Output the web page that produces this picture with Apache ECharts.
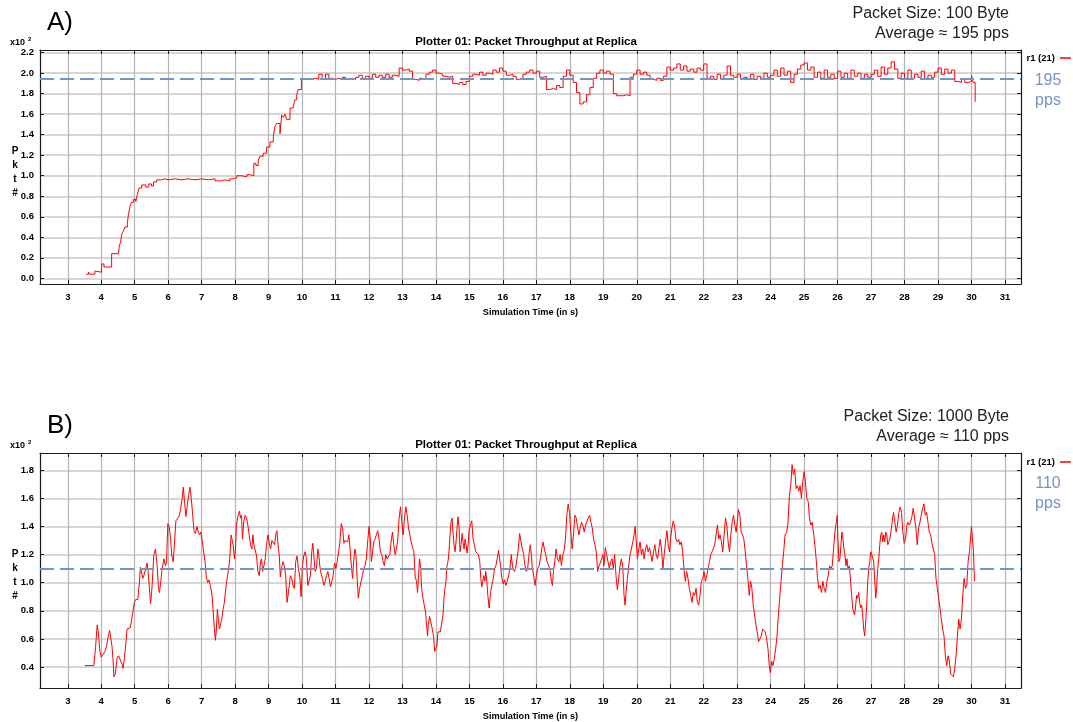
<!DOCTYPE html>
<html>
<head>
<meta charset="utf-8">
<title>Plotter 01: Packet Throughput at Replica</title>
<script src="https://cdn.jsdelivr.net/npm/echarts@6.0.0/dist/echarts.min.js"></script>
<style>
  html, body { margin: 0; padding: 0; background: #fff; }
  #chart { width: 1073px; height: 722px; }
</style>
</head>
<body>
<div id="chart"></div>
<script>
// tick labels
const xTicks = [3, 4, 5, 6, 7, 8, 9, 10, 11, 12, 13, 14, 15, 16, 17, 18, 19, 20, 21, 22, 23, 24, 25, 26, 27, 28, 29, 30, 31]
const aYTicks = [0, 20, 40, 60, 80, 100, 120, 140, 160, 180, 200, 220]
const bYTicks = [40, 60, 80, 100, 120, 140, 160, 180]

// averages (pps)
const aAverage = 195
const bAverage = 110

// A) 100 Byte packets: ramp-up phase (time in s, packets)
const aRampTimes = [3.55, 3.62, 3.65, 3.81, 3.86, 4.01, 4.08, 4.31, 4.51, 4.54, 4.58, 4.61, 4.66, 4.71, 4.78, 4.81, 4.86, 4.9, 4.96, 5.03,
  5.08, 5.13, 5.21, 5.33, 5.42, 5.5, 5.56, 5.66, 5.8, 5.9, 6.0, 6.2, 6.4, 6.6, 6.8, 7.0, 7.2, 7.4, 7.6, 7.7,
  7.84, 7.94, 8.05, 8.2, 8.35, 8.45, 8.5, 8.56, 8.62, 8.69, 8.74, 8.84, 8.94, 9.04, 9.14, 9.19, 9.24, 9.34, 9.39, 9.44,
  9.49, 9.54, 9.64, 9.73, 9.78, 9.84, 9.88, 9.98]
const aRampValues = [4, 6, 4, 7, 6, 14, 11, 24, 25, 31, 36, 43, 46, 50, 53, 62, 70, 74, 77, 75,
  82, 88, 91, 89, 92, 90, 94, 96, 97, 96, 97, 96, 97, 96, 97, 96, 97, 95, 96, 95,
  97, 98, 100, 99, 101, 102, 100, 112, 110, 115, 119, 122, 128, 133, 138, 148, 151, 141, 159, 157,
  160, 155, 166, 167, 174, 179, 184, 194]

// A) steady phase, sampled every 0.1 s from 10.1 s
const aSteadyStart = 10.1
const aSteadyStep = 0.1
const aSteadyValues = [
  194, 194, 195, 194, 199, 194, 199, 195, 194, 195,
  194, 196, 194, 195, 194, 196, 198, 195, 197, 195,
  199, 196, 198, 196, 199, 196, 198, 197, 205, 203,
  204, 202, 194, 193, 195, 194, 199, 201, 203, 200,
  199, 197, 196, 197, 190, 189, 191, 189, 192, 197,
  199, 198, 201, 198, 200, 199, 203, 201, 205, 202,
  198, 199, 197, 194, 195, 199, 201, 203, 200, 202,
  196, 197, 184, 185, 184, 188, 186, 197, 203, 198,
  191, 181, 170, 172, 179, 186, 195, 200, 203, 200,
  202, 199, 180, 178, 178, 179, 178, 196, 199, 203,
  199, 201, 198, 194, 193, 195, 193, 197, 206, 203,
  205, 209, 203, 207, 202, 204, 201, 205, 203, 209,
  195, 197, 194, 199, 195, 198, 207, 198, 196, 199,
  194, 196, 194, 199, 194, 197, 195, 200, 196, 198,
  203, 197, 205, 198, 202, 191, 199, 204, 208, 210,
  203, 206, 196, 201, 195, 203, 196, 199, 195, 202,
  196, 200, 195, 203, 197, 200, 195, 199, 196, 199,
  203, 197, 206, 199, 205, 211, 204, 195, 200, 195,
  203, 195, 199, 196, 202, 195, 198, 196, 201, 205,
  199, 204, 200, 203, 192, 191, 194, 191, 192, 198
]
const aTailTimes = [30.05, 30.11]
const aTailValues = [191, 172]

// B) 1000 Byte packets (time in s, packets)
const bTimes = [
  3.51, 3.78, 3.83, 3.88, 3.91, 3.96, 4.00, 4.06, 4.11, 4.16, 4.21, 4.25, 4.29, 4.32, 4.35, 4.38, 4.42, 4.47, 4.52, 4.57,
  4.62, 4.65, 4.69, 4.74, 4.77, 4.82, 4.87, 4.91, 4.95, 4.99, 5.03, 5.09, 5.14, 5.17, 5.20, 5.24, 5.27, 5.32, 5.37, 5.40,
  5.44, 5.47, 5.50, 5.53, 5.57, 5.62, 5.67, 5.71, 5.74, 5.77, 5.82, 5.87, 5.92, 5.95, 5.99, 6.03, 6.07, 6.11, 6.15, 6.19,
  6.23, 6.27, 6.32, 6.37, 6.42, 6.45, 6.49, 6.53, 6.57, 6.61, 6.65, 6.69, 6.73, 6.77, 6.81, 6.86, 6.90, 6.94, 6.98, 7.02,
  7.06, 7.10, 7.14, 7.18, 7.22, 7.26, 7.31, 7.34, 7.38, 7.41, 7.44, 7.47, 7.50, 7.53, 7.56, 7.60, 7.64, 7.68, 7.72, 7.76,
  7.80, 7.84, 7.88, 7.91, 7.94, 7.98, 8.01, 8.04, 8.08, 8.13, 8.16, 8.19, 8.22, 8.26, 8.30, 8.34, 8.38, 8.42, 8.46, 8.50,
  8.53, 8.56, 8.60, 8.64, 8.68, 8.72, 8.76, 8.79, 8.82, 8.86, 8.90, 8.94, 8.98, 9.02, 9.06, 9.10, 9.14, 9.18, 9.22, 9.25,
  9.28, 9.32, 9.35, 9.39, 9.43, 9.47, 9.51, 9.55, 9.58, 9.62, 9.65, 9.69, 9.73, 9.77, 9.81, 9.85, 9.89, 9.93, 9.97, 10.01,
  10.05, 10.09, 10.13, 10.17, 10.21, 10.25, 10.29, 10.32, 10.35, 10.39, 10.43, 10.47, 10.50, 10.53, 10.57, 10.61, 10.65, 10.69, 10.73, 10.77,
  10.81, 10.85, 10.89, 10.93, 10.97, 11.01, 11.05, 11.09, 11.13, 11.17, 11.21, 11.25, 11.28, 11.32, 11.36, 11.40, 11.44, 11.48, 11.51, 11.54,
  11.58, 11.61, 11.64, 11.68, 11.72, 11.76, 11.80, 11.84, 11.88, 11.92, 11.96, 12.00, 12.04, 12.07, 12.10, 12.14, 12.18, 12.22, 12.26, 12.30,
  12.34, 12.38, 12.42, 12.46, 12.50, 12.54, 12.58, 12.62, 12.66, 12.70, 12.74, 12.78, 12.82, 12.86, 12.90, 12.94, 12.98, 13.02, 13.06, 13.10,
  13.14, 13.18, 13.22, 13.26, 13.30, 13.34, 13.38, 13.42, 13.45, 13.48, 13.51, 13.54, 13.57, 13.61, 13.65, 13.69, 13.72, 13.75, 13.77, 13.81,
  13.85, 13.89, 13.93, 13.96, 14.00, 14.03, 14.06, 14.09, 14.13, 14.17, 14.21, 14.24, 14.27, 14.30, 14.33, 14.36, 14.39, 14.42, 14.45, 14.48,
  14.51, 14.54, 14.57, 14.60, 14.63, 14.66, 14.69, 14.72, 14.75, 14.78, 14.81, 14.84, 14.87, 14.90, 14.93, 14.96, 14.99, 15.03, 15.07, 15.11,
  15.15, 15.19, 15.23, 15.27, 15.31, 15.34, 15.37, 15.40, 15.43, 15.46, 15.49, 15.52, 15.55, 15.59, 15.63, 15.67, 15.71, 15.75, 15.79, 15.83,
  15.87, 15.90, 15.93, 15.97, 16.01, 16.05, 16.09, 16.13, 16.17, 16.21, 16.25, 16.27, 16.30, 16.34, 16.38, 16.42, 16.46, 16.50, 16.54, 16.58,
  16.62, 16.66, 16.70, 16.74, 16.78, 16.82, 16.85, 16.88, 16.92, 16.96, 17.00, 17.04, 17.08, 17.12, 17.16, 17.20, 17.24, 17.28, 17.32, 17.36,
  17.40, 17.45, 17.48, 17.51, 17.55, 17.59, 17.63, 17.67, 17.71, 17.75, 17.79, 17.83, 17.87, 17.91, 17.95, 17.99, 18.03, 18.07, 18.11, 18.15,
  18.19, 18.23, 18.27, 18.31, 18.35, 18.39, 18.43, 18.47, 18.51, 18.55, 18.59, 18.63, 18.67, 18.71, 18.75, 18.79, 18.83, 18.87, 18.91, 18.95,
  18.99, 19.02, 19.06, 19.10, 19.14, 19.18, 19.22, 19.26, 19.30, 19.34, 19.38, 19.42, 19.46, 19.50, 19.54, 19.58, 19.62, 19.65, 19.68, 19.72,
  19.76, 19.80, 19.84, 19.88, 19.92, 19.95, 19.98, 20.02, 20.06, 20.10, 20.14, 20.18, 20.22, 20.26, 20.30, 20.34, 20.38, 20.42, 20.46, 20.50,
  20.54, 20.58, 20.62, 20.66, 20.70, 20.74, 20.78, 20.82, 20.86, 20.90, 20.94, 20.98, 21.01, 21.05, 21.09, 21.13, 21.17, 21.21, 21.25, 21.29,
  21.33, 21.37, 21.41, 21.45, 21.49, 21.53, 21.57, 21.61, 21.65, 21.69, 21.73, 21.77, 21.81, 21.85, 21.89, 21.93, 21.97, 22.01, 22.05, 22.09,
  22.13, 22.17, 22.21, 22.25, 22.29, 22.33, 22.37, 22.41, 22.45, 22.49, 22.53, 22.57, 22.61, 22.65, 22.69, 22.73, 22.77, 22.81, 22.85, 22.89,
  22.93, 22.97, 23.00, 23.04, 23.08, 23.12, 23.16, 23.20, 23.24, 23.28, 23.32, 23.36, 23.40, 23.44, 23.48, 23.52, 23.56, 23.60, 23.64, 23.68,
  23.72, 23.76, 23.80, 23.84, 23.88, 23.92, 23.96, 23.99, 24.03, 24.07, 24.11, 24.15, 24.19, 24.23, 24.27, 24.31, 24.35, 24.39, 24.43, 24.48,
  24.52, 24.56, 24.60, 24.64, 24.68, 24.72, 24.76, 24.80, 24.84, 24.88, 24.92, 24.96, 25.00, 25.04, 25.08, 25.12, 25.16, 25.20, 25.24, 25.28,
  25.32, 25.36, 25.40, 25.44, 25.48, 25.52, 25.56, 25.60, 25.64, 25.68, 25.72, 25.76, 25.80, 25.84, 25.88, 25.92, 25.96, 25.99, 26.01, 26.04,
  26.07, 26.10, 26.13, 26.16, 26.19, 26.22, 26.25, 26.28, 26.31, 26.35, 26.39, 26.42, 26.45, 26.48, 26.51, 26.54, 26.57, 26.60, 26.63, 26.66,
  26.69, 26.72, 26.75, 26.78, 26.81, 26.84, 26.87, 26.90, 26.93, 26.96, 26.99, 27.02, 27.05, 27.08, 27.11, 27.14, 27.17, 27.20, 27.23, 27.26,
  27.29, 27.32, 27.35, 27.38, 27.41, 27.44, 27.47, 27.50, 27.53, 27.56, 27.59, 27.63, 27.67, 27.71, 27.75, 27.79, 27.83, 27.87, 27.91, 27.95,
  27.99, 28.03, 28.07, 28.10, 28.14, 28.18, 28.22, 28.26, 28.30, 28.34, 28.38, 28.42, 28.46, 28.50, 28.54, 28.58, 28.62, 28.66, 28.70, 28.74,
  28.78, 28.82, 28.86, 28.90, 28.94, 28.98, 29.02, 29.06, 29.10, 29.14, 29.18, 29.22, 29.26, 29.30, 29.34, 29.38, 29.42, 29.46, 29.50, 29.54,
  29.58, 29.62, 29.66, 29.70, 29.74, 29.78, 29.82, 29.86, 29.90, 29.94, 29.98, 30.00, 30.03, 30.06, 30.09
]
const bValues = [
  41, 41, 54, 70, 65, 51, 47, 49, 51, 55, 62, 66, 65, 55, 46, 33, 35, 46, 48, 47,
  42, 39, 46, 58, 67, 68, 68, 74, 80, 86, 88, 88, 100, 111, 108, 103, 105, 109, 114, 108,
  96, 85, 91, 102, 120, 124, 112, 96, 93, 99, 110, 117, 112, 115, 142, 140, 131, 119, 115, 129,
  144, 145, 147, 152, 160, 168, 157, 147, 155, 162, 168, 160, 149, 137, 135, 140, 136, 134, 136, 129,
  122, 115, 104, 100, 102, 98, 91, 81, 67, 59, 67, 81, 74, 67, 66, 74, 81, 86, 96, 103,
  109, 117, 134, 135, 127, 117, 124, 141, 147, 151, 146, 148, 131, 144, 148, 146, 141, 134, 127, 124,
  134, 127, 128, 119, 108, 105, 115, 117, 108, 112, 117, 127, 134, 128, 124, 130, 129, 127, 135, 137,
  127, 119, 104, 111, 115, 112, 105, 86, 91, 98, 105, 103, 98, 96, 115, 119, 110, 105, 90, 112,
  119, 122, 117, 98, 97, 105, 122, 128, 120, 108, 110, 124, 120, 112, 106, 103, 98, 101, 105, 108,
  103, 97, 101, 105, 114, 110, 115, 122, 129, 142, 139, 128, 130, 130, 129, 134, 122, 110, 103, 115,
  124, 120, 105, 89, 96, 97, 105, 110, 112, 117, 129, 140, 131, 115, 120, 129, 131, 134, 137, 131,
  122, 120, 115, 112, 120, 117, 116, 120, 129, 136, 127, 120, 124, 131, 146, 154, 143, 134, 146, 154,
  148, 139, 134, 129, 125, 122, 104, 101, 93, 105, 117, 112, 96, 89, 84, 79, 70, 62, 70, 76,
  76, 67, 62, 51, 51, 55, 65, 66, 65, 65, 77, 89, 96, 101, 112, 115, 122, 134, 143, 146,
  136, 127, 122, 129, 139, 147, 139, 122, 127, 135, 129, 124, 131, 127, 121, 127, 137, 141, 144, 131,
  127, 122, 121, 120, 115, 103, 97, 101, 105, 101, 108, 101, 91, 82, 93, 98, 103, 110, 112, 117,
  123, 122, 112, 103, 99, 102, 98, 101, 105, 110, 120, 115, 110, 108, 110, 117, 124, 135, 134, 124,
  120, 112, 108, 110, 120, 127, 120, 110, 105, 98, 105, 110, 112, 117, 124, 129, 124, 120, 115, 116,
  110, 101, 98, 108, 115, 124, 117, 115, 120, 112, 120, 123, 131, 148, 156, 150, 136, 124, 134, 148,
  146, 140, 134, 139, 143, 141, 136, 141, 140, 146, 148, 143, 139, 131, 127, 122, 108, 112, 114, 115,
  120, 112, 125, 120, 115, 110, 115, 117, 110, 120, 105, 95, 103, 112, 117, 112, 91, 84, 93, 103,
  112, 120, 124, 129, 134, 140, 131, 117, 124, 129, 120, 124, 117, 124, 127, 122, 125, 120, 115, 122,
  127, 120, 117, 124, 131, 124, 110, 120, 129, 137, 127, 122, 131, 139, 144, 140, 131, 129, 131, 127,
  129, 122, 110, 101, 108, 103, 96, 91, 86, 93, 91, 96, 86, 84, 91, 101, 103, 108, 101, 105,
  110, 115, 120, 122, 122, 127, 134, 141, 131, 134, 129, 122, 134, 146, 141, 129, 122, 134, 143, 148,
  141, 136, 143, 152, 148, 136, 134, 131, 122, 112, 103, 91, 101, 96, 84, 77, 70, 65, 58, 57,
  62, 67, 68, 65, 60, 53, 41, 36, 44, 41, 46, 53, 62, 77, 89, 101, 112, 122, 134, 136,
  143, 162, 169, 184, 177, 181, 167, 169, 165, 169, 160, 172, 179, 172, 160, 158, 146, 141, 143, 136,
  127, 117, 103, 96, 98, 93, 101, 96, 93, 101, 105, 112, 110, 112, 124, 136, 143, 148, 131, 115,
  117, 127, 136, 131, 124, 120, 112, 117, 110, 112, 101, 91, 82, 79, 77, 84, 91, 89, 93, 86,
  82, 84, 77, 67, 62, 72, 84, 101, 110, 115, 122, 120, 120, 115, 101, 89, 98, 110, 117, 127,
  134, 136, 129, 134, 129, 136, 134, 127, 129, 131, 136, 143, 150, 143, 136, 141, 150, 154, 150, 136,
  128, 131, 141, 143, 141, 143, 147, 153, 154, 139, 127, 139, 143, 148, 153, 156, 148, 150, 143, 136,
  134, 128, 127, 120, 103, 96, 89, 82, 74, 67, 62, 48, 41, 48, 44, 35, 34, 33, 39, 48,
  62, 74, 67, 74, 91, 103, 96, 98, 115, 122, 134, 140, 131, 122, 101
]

const FONT = '"Liberation Sans", Arial, Helvetica, sans-serif'
const AVG_COLOR = '#7096c8'

// build [time, packets] pairs
const aPoints = aRampTimes.map((t, i) => [t, aRampValues[i]])
  .concat(aSteadyValues.map((v, i) => [+(aSteadyStart + i * aSteadyStep).toFixed(2), v]))
  .concat(aTailTimes.map((t, i) => [t, aTailValues[i]]))
const bPoints = bTimes.map((t, i) => [t, bValues[i]])

function makeXAxes(gridIndex) {
  const common = {
    type: 'value', gridIndex: gridIndex, min: 2.17, max: 31.48,
    axisLine: { onZero: false, lineStyle: { color: '#1a1a1a', width: 1.2 } },
    axisTick: { inside: true, length: 4, customValues: xTicks, lineStyle: { color: '#1a1a1a' } }
  }
  return [
    Object.assign({}, common, {
      position: 'bottom',
      name: 'Simulation Time (in s)', nameLocation: 'middle', nameGap: 24,
      nameTextStyle: { fontFamily: FONT, fontWeight: 'bold', fontSize: 9.2, color: '#000' },
      axisLabel: { customValues: xTicks, margin: 8, fontFamily: FONT, fontWeight: 'bold', fontSize: 9.5, color: '#000' },
      splitLine: { show: true, lineStyle: { color: '#b4b4b4', width: 1.2 } }
    }),
    Object.assign({}, common, {
      position: 'top',
      axisLabel: { show: false },
      splitLine: { show: false }
    })
  ]
}

function makeYAxes(gridIndex, min, max, ticks) {
  const common = {
    type: 'value', gridIndex: gridIndex, min: min, max: max,
    axisLine: { show: true, onZero: false, lineStyle: { color: '#1a1a1a', width: 1.2 } },
    axisTick: { show: true, inside: true, length: 4, customValues: ticks, lineStyle: { color: '#1a1a1a' } }
  }
  return [
    Object.assign({}, common, {
      position: 'left',
      axisLabel: {
        customValues: ticks, margin: 6, fontFamily: FONT, fontWeight: 'bold', fontSize: 9.5, color: '#000',
        formatter: v => (v / 100).toFixed(1)
      },
      splitLine: { show: true, lineStyle: { color: '#d6d6d6', width: 2 } }
    }),
    Object.assign({}, common, {
      position: 'right',
      axisLabel: { show: false },
      splitLine: { show: false }
    })
  ]
}

function averageLine(value) {
  return {
    silent: true,
    symbol: ['none', 'none'],
    label: { show: false },
    lineStyle: { color: AVG_COLOR, width: 2, type: [14, 6] },
    data: [{ yAxis: value }]
  }
}

function txt(x, y, text, font, fill, align) {
  return {
    type: 'text', x: x, y: y,
    style: { text: text, font: font, fill: fill, textAlign: align || 'left', textVerticalAlign: 'middle' }
  }
}

function panelTexts(top, letter, size, average) {
  // top = y of the panel's letter line; everything else is relative to it
  const pkt = txt(15, top + 149, 'P\nk\nt\n#', 'bold 10px ' + FONT, '#000', 'center')
  pkt.style.lineHeight = 14
  return [
    txt(47, top, letter, '26px ' + FONT, '#000'),
    txt(526, top + 19, 'Plotter 01: Packet Throughput at Replica', 'bold 11.5px ' + FONT, '#000', 'center'),
    txt(10, top + 20, 'x10', 'bold 9px ' + FONT, '#000'),
    txt(28, top + 16, '2', 'bold 6px ' + FONT, '#000'),
    pkt,
    txt(1009, top - 9.5, 'Packet Size: ' + size + ' Byte', '16px ' + FONT, '#222', 'right'),
    txt(1009, top + 10.5, 'Average \u2248 ' + average + ' pps', '16px ' + FONT, '#222', 'right'),
    txt(1048, top + 58, String(average), '16px ' + FONT, AVG_COLOR, 'center'),
    txt(1048, top + 78, 'pps', '16px ' + FONT, AVG_COLOR, 'center')
  ]
}

function makeLegend(top) {
  return {
    data: ['r1 (21)'], right: 2, top: top, align: 'right', orient: 'vertical',
    icon: 'rect', itemWidth: 11, itemHeight: 1.5, padding: 0, selectedMode: false,
    textStyle: { fontFamily: FONT, fontWeight: 'bold', fontSize: 9.5, color: '#000' }
  }
}

const chart = echarts.init(document.getElementById('chart'), null, { renderer: 'canvas' })
chart.setOption({
  animation: false,
  backgroundColor: '#fff',
  grid: [
    { left: 40, top: 50, width: 981, height: 234 },
    { left: 40, top: 453, width: 981, height: 235 }
  ],
  xAxis: makeXAxes(0).concat(makeXAxes(1)),
  yAxis: makeYAxes(0, -5.56, 222.6, aYTicks).concat(makeYAxes(1, 25.05, 192.3, bYTicks)),
  legend: [makeLegend(53), makeLegend(457)],
  series: [
    {
      name: 'r1 (21)', type: 'line', xAxisIndex: 0, yAxisIndex: 0,
      data: aPoints, step: 'end', showSymbol: false, symbol: 'none',
      lineStyle: { color: '#ff0000', width: 1 }, itemStyle: { color: '#ff0000' },
      markLine: averageLine(aAverage)
    },
    {
      name: 'r1 (21)', type: 'line', xAxisIndex: 2, yAxisIndex: 2,
      data: bPoints, showSymbol: false, symbol: 'none',
      lineStyle: { color: '#ff0000', width: 1 }, itemStyle: { color: '#ff0000' },
      markLine: averageLine(bAverage)
    }
  ],
  graphic: panelTexts(23, 'A)', 100, aAverage).concat(panelTexts(426, 'B)', 1000, bAverage))
})
</script>
</body>
</html>
